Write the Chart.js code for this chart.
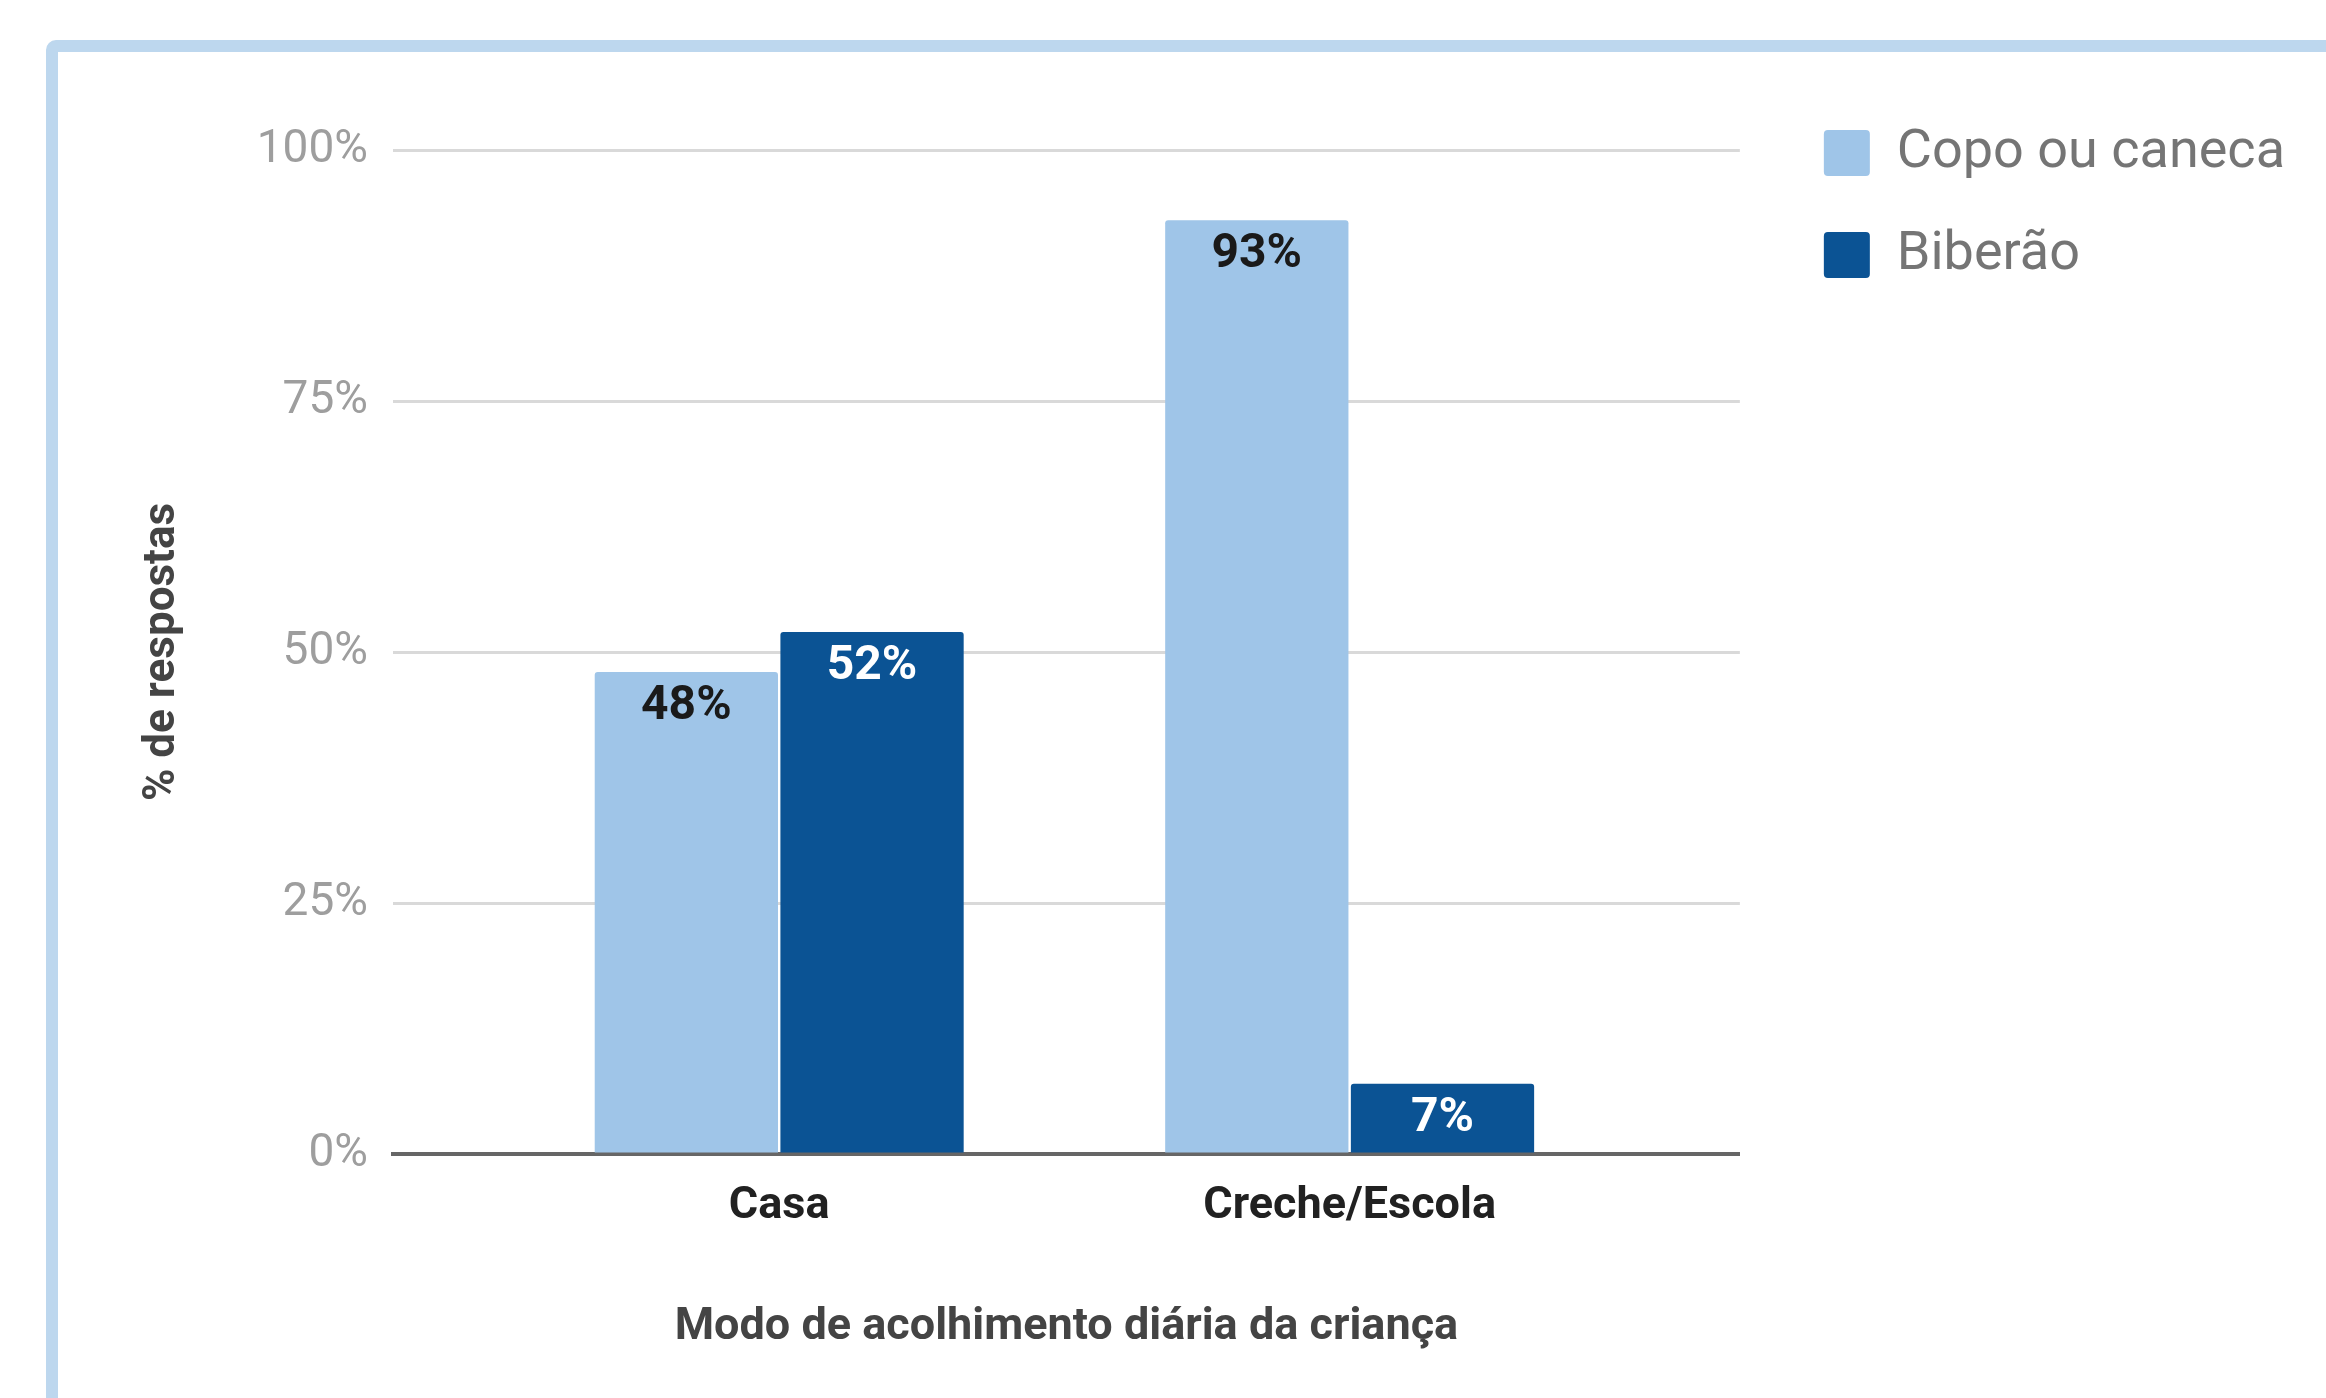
<!DOCTYPE html>
<html lang="pt">
<head>
<meta charset="UTF-8">
<title>Modo de acolhimento diária da criança</title>
<script src="https://cdn.jsdelivr.net/npm/chart.js"></script>
<style>
  html, body { margin: 0; padding: 0; background: #fff; }
  body { width: 2326px; height: 1398px; position: relative; overflow: hidden; font-family: Roboto, sans-serif; }
  /* moldura azul clara (so topo e esquerda ficam visiveis) */
  .moldura {
    position: absolute; left: 46px; top: 40px;
    width: 2400px; height: 1500px;
    border: 12px solid #bdd7ee; border-radius: 10px;
    box-sizing: border-box;
  }
  .grafico { position: absolute; left: 0; top: 0; width: 2326px; height: 1398px; }
</style>
</head>
<body>
<div class="moldura"></div>
<div class="grafico"><canvas id="graf"></canvas></div>

<script>
// dados
const categorias = ['Casa', 'Creche/Escola'];
const series = ['Copo ou caneca', 'Biberão'];
const copoOuCaneca = [48, 93];
const biberao = [52, 7];
const marcasY = [0, 25, 50, 75, 100];

const corClara = '#9fc5e8';
const corEscura = '#0b5394';

// rotulos de valor dentro das barras
const rotulos = {
    id: 'rotulos',
    afterDatasetsDraw(chart) {
        const ctx = chart.ctx;
        ctx.save();
        ctx.font = 'bold 48px Roboto';
        ctx.textAlign = 'center';
        ctx.textBaseline = 'middle';
        chart.data.datasets.forEach((ds, i) => {
            chart.getDatasetMeta(i).data.forEach((barra, j) => {
                ctx.fillStyle = ds.corRotulo;
                ctx.fillText(ds.data[j].y + '%', barra.x, barra.y + 35);
            });
        });
        ctx.restore();
    }
};

new Chart(document.getElementById('graf'), {
    type: 'bar',
    data: {
        datasets: [{
            label: series[0],
            data: copoOuCaneca.map((v, i) => ({ x: i, y: v })),
            backgroundColor: corClara,
            borderWidth: 0,
            borderRadius: 3,
            corRotulo: '#1a1a1a'
        }, {
            label: series[1],
            data: biberao.map((v, i) => ({ x: i, y: v })),
            backgroundColor: corEscura,
            borderWidth: 0,
            borderRadius: 3,
            corRotulo: '#ffffff'
        }]
    },
    options: {
        responsive: true,
        maintainAspectRatio: false,
        animation: false,
        categoryPercentage: 0.651,
        barPercentage: 0.987,
        layout: { padding: { left: 104, top: 78, right: 31, bottom: 0 } },
        plugins: {
            title: { display: true, text: '', font: { size: 10 }, padding: { top: 0, bottom: 60 } },
            tooltip: { enabled: false },
            legend: {
                position: 'right',
                align: 'start',
                maxWidth: 800,
                labels: {
                    boxWidth: 46,
                    boxHeight: 46,
                    padding: 48,
                    useBorderRadius: true,
                    borderRadius: 4,
                    color: '#757575',
                    font: { family: 'Roboto', size: 54 }
                }
            }
        },
        scales: {
            x: {
                type: 'linear',
                offset: false,
                min: -0.677,
                max: 1.684,
                z: 1,
                grid: { display: false, drawTicks: false },
                border: { display: true, color: '#666666', width: 4 },
                afterBuildTicks(s) { s.ticks = categorias.map((c, i) => ({ value: i })); },
                afterFit(s) { s.height = 244; },
                ticks: {
                    autoSkip: false,
                    maxRotation: 0,
                    padding: 26,
                    color: '#212121',
                    font: { family: 'Roboto', size: 45, weight: 'bold' },
                    callback: (v) => categorias[v]
                },
                title: {
                    display: true,
                    text: 'Modo de acolhimento diária da criança',
                    color: '#444444',
                    font: { family: 'Roboto', size: 45, weight: 'bold' },
                    padding: { top: 0, bottom: 43 }
                }
            },
            y: {
                min: 0,
                max: 100,
                afterBuildTicks(s) { s.ticks = marcasY.map(v => ({ value: v })); },
                afterFit(s) { s.width = 289; },
                grid: {
                    drawTicks: false,
                    lineWidth: 3,
                    color: (c) => c.tick && c.tick.value === 0 ? 'rgba(0,0,0,0)' : '#d9d9d9'
                },
                border: { display: false },
                ticks: {
                    padding: 25,
                    color: '#9e9e9e',
                    font: { family: 'Roboto', size: 46 },
                    callback: (v) => v + '%'
                },
                title: {
                    display: true,
                    text: '% de respostas',
                    color: '#444444',
                    font: { family: 'Roboto', size: 44, weight: 'bold' },
                    padding: { top: 33, bottom: 0 }
                }
            },
            // espaco entre a area do grafico e a legenda
            y2: {
                position: 'right',
                display: true,
                grid: { display: false, drawTicks: false },
                border: { display: false },
                ticks: { display: false },
                afterFit(s) { s.width = 36; }
            }
        }
    },
    plugins: [rotulos]
});
</script>
</body>
</html>
